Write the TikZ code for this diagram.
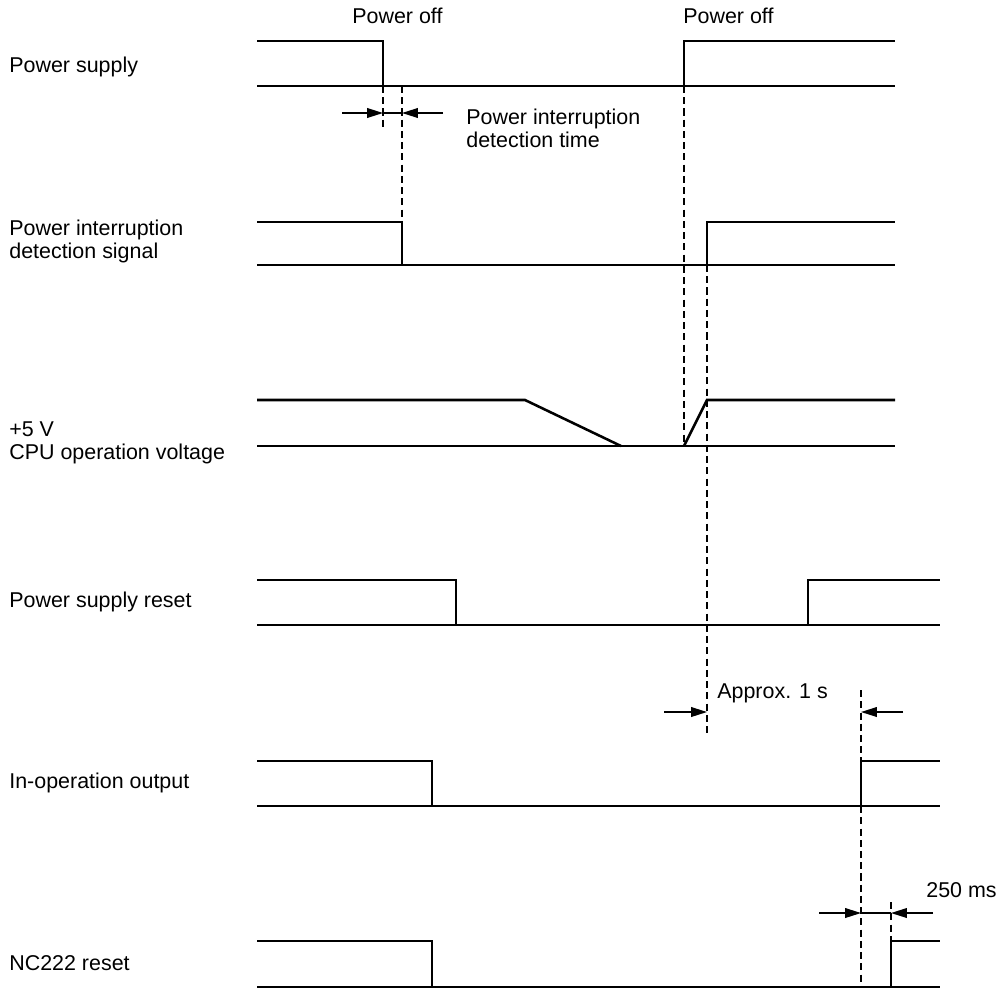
\documentclass[tikz,border=0pt]{standalone}
\usepackage{fontspec}
\setmainfont{Liberation Sans}
\usetikzlibrary{arrows.meta}

\tikzset{
  wave/.style={line width=1.45pt, line join=miter},
  guide/.style={line width=1.1pt, dash pattern=on 4pt off 2.4pt},
  dimarrow/.style={line width=0.8pt, -{Triangle[length=9pt,width=5.5pt]}},
  lbl/.style={anchor=base west, inner sep=0pt, align=left,
    font=\fontsize{12.2}{12.6}\selectfont},
}

\begin{document}
\begin{tikzpicture}[x=0.02cm, y=-0.02cm]
  \useasboundingbox (0,0) rectangle (999,987);
  % signal names on the left (base = last line)
  \node[lbl] (nsupply) at (9,72) {Power supply};
  \node[lbl] (ndetect) at (9,258) {Power interruption\\detection signal};
  \node[lbl] (ncpu) at (9,459) {+5 V\\CPU operation voltage};
  \node[lbl] (nreset) at (9,607) {Power supply reset};
  \node[lbl] (nrun) at (9,788) {In-operation output};
  \node[lbl] (nnc) at (9,970) {NC222 reset};
  % event labels
  \node[lbl] (off1) at (352,23) {Power off};
  \node[lbl] (off2) at (683,23) {Power off};
  \node[lbl] (tdetect) at (466,147) {Power interruption\\detection time};
  \node[lbl] (tone) at (717,698) {Approx. 1 s};
  \node[lbl] (tms) at (926,897) {250 ms};
  % power supply
  \draw[wave] (257,41) -- (383,41) -- (383,86);
  \draw[wave] (257,86) -- (895,86);
  \draw[wave] (684,86) -- (684,41) -- (895,41);
  % power interruption detection signal
  \draw[wave] (257,222) -- (402,222) -- (402,265);
  \draw[wave] (257,265) -- (895,265);
  \draw[wave] (707,265) -- (707,222) -- (895,222);
  % +5 V, slow fall then fast rise
  \draw[wave] (257,400) -- (525,400) -- (621,446);
  \draw[wave] (257,446) -- (895,446);
  \draw[wave] (684,446) -- (707,400) -- (895,400);
  % power supply reset
  \draw[wave] (257,580) -- (456,580) -- (456,625);
  \draw[wave] (257,625) -- (940,625);
  \draw[wave] (808,625) -- (808,580) -- (940,580);
  % in-operation output
  \draw[wave] (257,761) -- (432,761) -- (432,806);
  \draw[wave] (257,806) -- (940,806);
  \draw[wave] (861,806) -- (861,761) -- (940,761);
  % NC222 reset
  \draw[wave] (257,941) -- (432,941) -- (432,987);
  \draw[wave] (257,987) -- (940,987);
  \draw[wave] (891,987) -- (891,941) -- (940,941);
  % dashed guide lines
  \draw[guide] (383,86) -- (383,128);
  \draw[guide] (402,86) -- (402,222);
  \draw[guide] (684,86) -- (684,446);
  \draw[guide] (707,265) -- (707,735);
  \draw[guide] (861,690) -- (861,761);
  \draw[guide] (861,806) -- (861,987);
  \draw[guide] (891,902) -- (891,941);
  % detection time
  \draw[dimarrow] (342,113) -- (383,113);
  \draw[dimarrow] (443,113) -- (402,113);
  \draw[line width=0.8pt] (383,113) -- (402,113);
  % approx. 1 s
  \draw[dimarrow] (664,712) -- (707,712);
  \draw[dimarrow] (903,712) -- (861,712);
  % 250 ms
  \draw[dimarrow] (819,913) -- (861,913);
  \draw[dimarrow] (933,913) -- (891,913);
  \draw[line width=0.8pt] (861,913) -- (891,913);
\end{tikzpicture}
\end{document}
